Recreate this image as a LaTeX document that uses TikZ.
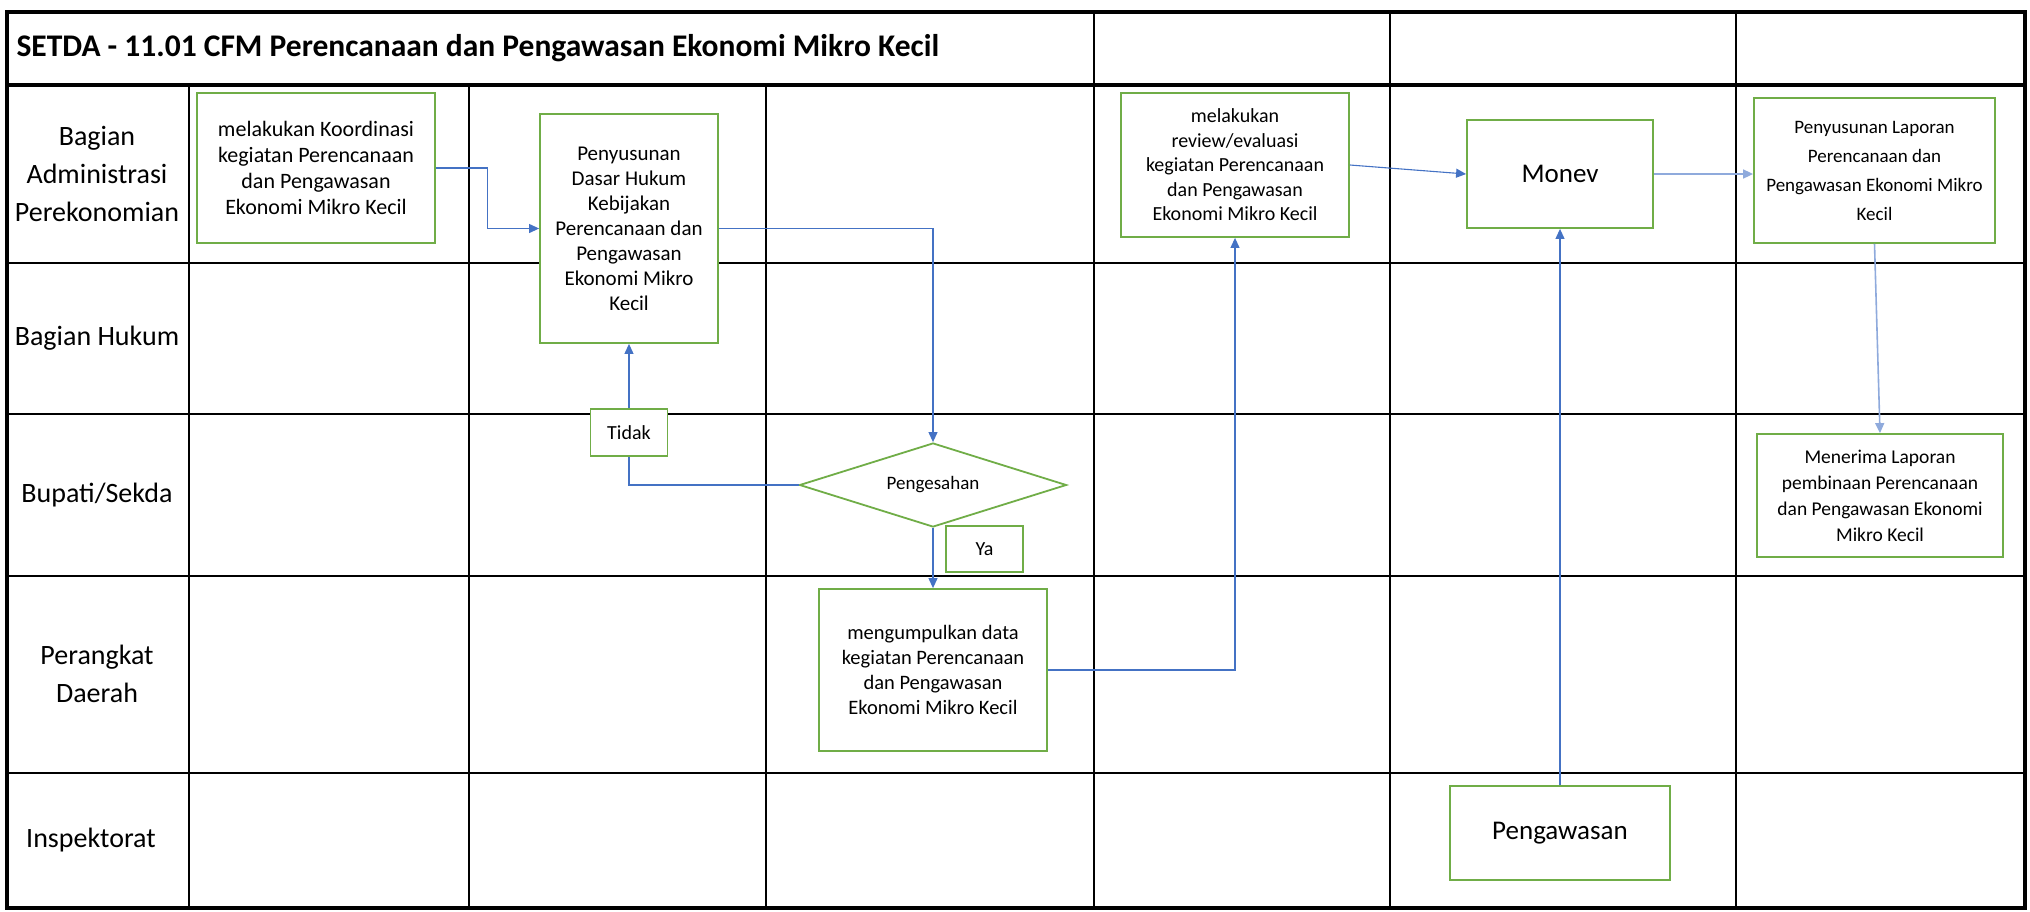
\documentclass[tikz,border=0pt]{standalone}
\usepackage{fontspec}
\setmainfont{Carlito}
\usepackage{tikz}
\usetikzlibrary{arrows.meta,positioning,shapes.geometric,calc}
\usepackage{xcolor}
\definecolor{cfmgreen}{HTML}{70AD47}
\definecolor{cfmblue}{HTML}{4472C4}
\definecolor{cfmlight}{HTML}{8FAADC}

\begin{document}
\begin{tikzpicture}[x=1pt, y=-1pt,
    procbox/.style={rectangle, draw=cfmgreen, line width=1.8pt, fill=white,
                    align=center, inner sep=3pt, font=\fontsize{20}{24.5}\selectfont},
    decbox/.style={diamond, aspect=3.18, draw=cfmgreen, line width=1.8pt, fill=white,
                   inner sep=0pt, font=\fontsize{19}{23}\selectfont},
    lanelbl/.style={align=center, font=\fontsize{28}{38}\selectfont},
    gridline/.style={line width=2.6pt, black},
    arr/.style={-{Triangle[length=10pt, width=9pt]}, line width=1.1pt, cfmblue},
    lnk/.style={line width=1.1pt, cfmblue}
]
\useasboundingbox (0,0) rectangle (2030,911);

% swimlane grid
\draw[line width=3.2pt] (7,12) rectangle (2025,908);
\draw[line width=3.4pt] (7,85) -- (2025,85);
\foreach \ly in {263,414,576,773}
  \draw[gridline] (7,\ly) -- (2025,\ly);
\foreach \cx in {189,469,766}
  \draw[gridline] (\cx,85) -- (\cx,908);
\foreach \cx in {1094,1390,1736}
  \draw[gridline] (\cx,12) -- (\cx,908);

\node[anchor=west, font=\fontsize{31.5}{36}\selectfont\bfseries] (title) at (13,48)
  {SETDA - 11.01 CFM Perencanaan dan Pengawasan Ekonomi Mikro Kecil};

% lane labels
\node[lanelbl] (l1) at (97,174) {Bagian\\Administrasi\\Perekonomian};
\node[lanelbl] (l2) at (97,338) {Bagian Hukum};
\node[lanelbl] (l3) at (97,495) {Bupati/Sekda};
\node[lanelbl] (l4) at (97,674) {Perangkat\\Daerah};
\node[lanelbl] (l5) at (91,840) {Inspektorat};

% process steps
\node[procbox, minimum width=238pt, minimum height=150pt, font=\fontsize{22}{26}\selectfont] (koord) at (316,168)
  {melakukan Koordinasi\\kegiatan Perencanaan\\dan Pengawasan\\Ekonomi Mikro Kecil};
\node[procbox, minimum width=178pt, minimum height=229pt, font=\fontsize{21}{25}\selectfont] (dasar) at (629,228.5)
  {Penyusunan\\Dasar Hukum\\Kebijakan\\Perencanaan dan\\Pengawasan\\Ekonomi Mikro\\Kecil};
\node[procbox, minimum width=77pt, minimum height=47pt] (tidak) at (629,432.5) {Tidak};
\node[decbox, minimum width=267pt, minimum height=84pt] (sah) at (933,485) {Pengesahan};
\node[procbox, minimum width=77pt, minimum height=46pt] (ya) at (984.5,549) {Ya};
\node[procbox, minimum width=228pt, minimum height=162pt, font=\fontsize{20.5}{25}\selectfont] (kumpul) at (933,670)
  {mengumpulkan data\\kegiatan Perencanaan\\dan Pengawasan\\Ekonomi Mikro Kecil};
\node[procbox, minimum width=228pt, minimum height=144pt] (review) at (1235,165)
  {melakukan\\review/evaluasi\\kegiatan Perencanaan\\dan Pengawasan\\Ekonomi Mikro Kecil};
\node[procbox, minimum width=186pt, minimum height=108pt, font=\fontsize{27}{32}\selectfont] (monev) at (1560,174) {Monev};
\node[procbox, minimum width=241pt, minimum height=145pt, font=\fontsize{19}{29}\selectfont] (lapor) at (1874.5,170.5)
  {Penyusunan Laporan\\Perencanaan dan\\Pengawasan Ekonomi Mikro\\Kecil};
\node[procbox, minimum width=246pt, minimum height=123pt, font=\fontsize{19.5}{26}\selectfont] (terima) at (1880,495.5)
  {Menerima Laporan\\pembinaan Perencanaan\\dan Pengawasan Ekonomi\\Mikro Kecil};
\node[procbox, minimum width=220pt, minimum height=94pt, font=\fontsize{27}{32}\selectfont] (awas) at (1560,833) {Pengawasan};

% connectors
\draw[arr] (koord.east) -- ++(52,0) |- (dasar.west);
\draw[arr] (dasar.east) -| (sah.north);
\draw[lnk] (sah.west) -| (tidak.south);
\draw[arr] (tidak.north) -- (dasar.south);
\draw[arr] (sah.south) -- (kumpul.north);
\draw[arr] (kumpul.east) -| (review.south);
\draw[arr] (review.east) -- (monev.west);
\draw[arr, cfmlight, line width=1.6pt] (monev.east) -- (monev.east -| lapor.west);
\draw[arr] (awas.north) -- (monev.south);
\draw[arr, cfmlight, line width=1.6pt] (lapor.south) -- (terima.north);

\end{tikzpicture}
\end{document}
